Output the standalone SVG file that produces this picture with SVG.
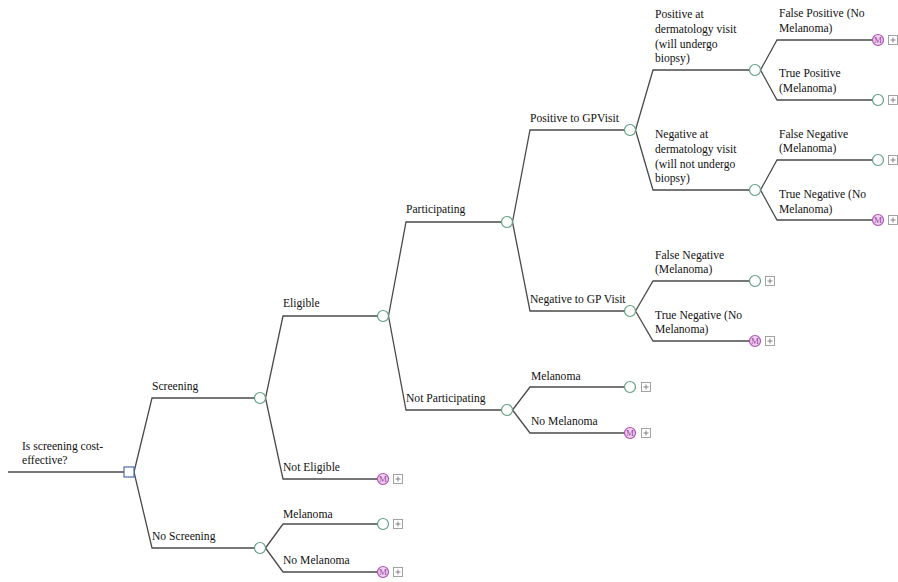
<svg xmlns="http://www.w3.org/2000/svg" width="898" height="582" viewBox="0 0 898 582" font-family="'Liberation Serif', 'DejaVu Serif', 'Times New Roman', serif">
<style>
.e{fill:none;stroke:#4a4a4a;stroke-width:1.3}
.t{font-family:'Liberation Serif','DejaVu Serif','Times New Roman',serif;font-size:11.6px;fill:#111}
.c{fill:#fff;stroke:#5e9e80;stroke-width:1.2}
.m{fill:#ecd2ec;stroke:#b050b8;stroke-width:1.2}
.mt{font-family:'Liberation Serif',serif;font-size:9px;fill:#a040a8;text-anchor:middle}
.d{fill:#fff;stroke:#4a6ab8;stroke-width:1.2}
.p{fill:#fff;stroke:#999;stroke-width:0.9}
.pl{stroke:#777;stroke-width:0.9}
</style>
<defs>
<g id="plus"><rect class="p" x="-4.5" y="-4.5" width="9" height="9"/><path class="pl" d="M-2.5 0H2.5M0 -2.5V2.5"/></g>
<g id="mn"><circle class="m" r="5.5"/><text class="mt" y="3.2">M</text></g>
</defs>
<g id="connectors">
<path class="e" d="M8 472H124"/>
<path class="e" d="M134 472L152 398H254.5M134 472L152 548H254.5"/>
<path class="e" d="M265.5 398L283 316H377.5M265.5 398L283 479H377.5"/>
<path class="e" d="M388.5 316L406 222H501.5M388.5 316L406 410H501.5"/>
<path class="e" d="M512.5 222L530 130H624.5M512.5 222L530 311H624.5"/>
<path class="e" d="M635.5 130L653 70H749.5M635.5 130L653 190H749.5"/>
<path class="e" d="M760.5 70L777 40H872.5M760.5 70L777 100H872.5"/>
<path class="e" d="M760.5 190L777 160H872.5M760.5 190L777 220H872.5"/>
<path class="e" d="M635.5 311L653 281H749.5M635.5 311L653 341H749.5"/>
<path class="e" d="M512.5 410L530 387H624.5M512.5 410L530 433H624.5"/>
<path class="e" d="M265.5 548L283 524H377.5M265.5 548L283 572H377.5"/>
</g>
<g id="root"><rect class="d" x="124" y="467" width="10" height="10"/><text class="t" x="22" y="450">Is screening cost-</text><text class="t" x="22" y="464">effective?</text></g>
<g id="screening"><circle class="c" cx="260" cy="398" r="5.5"/><text class="t" x="152" y="390">Screening</text></g>
<g id="no-screening"><circle class="c" cx="260" cy="548" r="5.5"/><text class="t" x="152" y="540">No Screening</text></g>
<g id="eligible"><circle class="c" cx="383" cy="316" r="5.5"/><text class="t" x="283" y="307">Eligible</text></g>
<g id="not-eligible"><use href="#mn" x="383" y="479"/><use href="#plus" x="398" y="479"/><text class="t" x="283" y="471">Not Eligible</text></g>
<g id="participating"><circle class="c" cx="507" cy="222" r="5.5"/><text class="t" x="406" y="213">Participating</text></g>
<g id="not-participating"><circle class="c" cx="507" cy="410" r="5.5"/><text class="t" x="406" y="402">Not Participating</text></g>
<g id="positive-gp"><circle class="c" cx="630" cy="130" r="5.5"/><text class="t" x="530" y="122">Positive to GPVisit</text></g>
<g id="negative-gp"><circle class="c" cx="630" cy="311" r="5.5"/><text class="t" x="530" y="303">Negative to GP Visit</text></g>
<g id="pos-derm"><circle class="c" cx="755" cy="70" r="5.5"/><text class="t" x="655" y="18">Positive at</text><text class="t" x="655" y="33">dermatology visit</text><text class="t" x="655" y="48">(will undergo</text><text class="t" x="655" y="62">biopsy)</text></g>
<g id="neg-derm"><circle class="c" cx="755" cy="190" r="5.5"/><text class="t" x="655" y="138">Negative at</text><text class="t" x="655" y="153">dermatology visit</text><text class="t" x="655" y="168">(will not undergo</text><text class="t" x="655" y="182">biopsy)</text></g>
<g id="false-positive"><use href="#mn" x="878" y="40"/><use href="#plus" x="893" y="40"/><text class="t" x="779" y="17">False Positive (No</text><text class="t" x="779" y="32">Melanoma)</text></g>
<g id="true-positive"><circle class="c" cx="878" cy="100" r="5.5"/><use href="#plus" x="893" y="100"/><text class="t" x="779" y="77">True Positive</text><text class="t" x="779" y="92">(Melanoma)</text></g>
<g id="false-negative-derm"><circle class="c" cx="878" cy="160" r="5.5"/><use href="#plus" x="893" y="160"/><text class="t" x="779" y="138">False Negative</text><text class="t" x="779" y="152">(Melanoma)</text></g>
<g id="true-negative-derm"><use href="#mn" x="878" y="220"/><use href="#plus" x="893" y="220"/><text class="t" x="779" y="198">True Negative (No</text><text class="t" x="779" y="213">Melanoma)</text></g>
<g id="false-negative-gp"><circle class="c" cx="755" cy="281" r="5.5"/><use href="#plus" x="770" y="281"/><text class="t" x="655" y="259">False Negative</text><text class="t" x="655" y="273">(Melanoma)</text></g>
<g id="true-negative-gp"><use href="#mn" x="755" y="341"/><use href="#plus" x="770" y="341"/><text class="t" x="655" y="319">True Negative (No</text><text class="t" x="655" y="333">Melanoma)</text></g>
<g id="np-melanoma"><circle class="c" cx="630" cy="387" r="5.5"/><use href="#plus" x="646" y="387"/><text class="t" x="531" y="380">Melanoma</text></g>
<g id="np-no-melanoma"><use href="#mn" x="630" y="433"/><use href="#plus" x="646" y="433"/><text class="t" x="531" y="425">No Melanoma</text></g>
<g id="ns-melanoma"><circle class="c" cx="383" cy="524" r="5.5"/><use href="#plus" x="398" y="524"/><text class="t" x="283" y="518">Melanoma</text></g>
<g id="ns-no-melanoma"><use href="#mn" x="383" y="572"/><use href="#plus" x="398" y="572"/><text class="t" x="283" y="564">No Melanoma</text></g>
</svg>
